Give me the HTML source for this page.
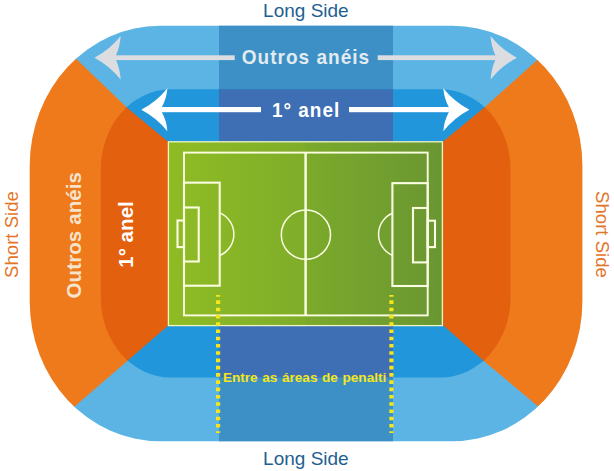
<!DOCTYPE html>
<html>
<head>
<meta charset="utf-8">
<title>Stadium</title>
<style>
html,body{margin:0;padding:0;background:#fff;}
body{width:614px;height:471px;overflow:hidden;}
svg{display:block;}
text{font-family:"Liberation Sans",Arial,sans-serif;}
</style>
</head>
<body>
<svg width="614" height="471" viewBox="0 0 614 471">
<defs>
<clipPath id="outer"><rect x="29.7" y="25.8" width="552.7" height="415.4" rx="130" ry="140"/></clipPath>
<clipPath id="inner"><rect x="100.8" y="89.3" width="409.7" height="288.3" rx="70" ry="80"/></clipPath>
<linearGradient id="grass" x1="0" y1="0" x2="1" y2="0">
<stop offset="0" stop-color="#8fbc24"/>
<stop offset="0.499" stop-color="#7fad2a"/>
<stop offset="0.501" stop-color="#7baa2b"/>
<stop offset="1" stop-color="#6a9632"/>
</linearGradient>
</defs>
<rect width="614" height="471" fill="#ffffff"/>
<!-- outer ring -->
<g clip-path="url(#outer)">
<polygon points="5.7,-5.9 72.8,58.5 124.4,108.0 165.5,142.0 165.5,150.0 446.1,150.0 446.1,141.5 487.0,107.8 540.0,60.3 608.9,-1.5" fill="#5cb4e4"/>
<polygon points="3.8,465.3 72.2,406.0 124.8,360.4 165.5,325.3 165.5,318.0 446.1,318.0 446.1,325.3 486.1,360.4 540.7,406.0 611.7,465.3" fill="#5cb4e4"/>
<rect x="219" y="0" width="174" height="150" fill="#3c90c6"/>
<rect x="219" y="318" width="174" height="153" fill="#3c90c6"/>
<polygon points="-5.0,-5.9 8.7,-5.9 75.8,58.5 127.4,108.0 168.5,142.0 168.5,325.3 127.8,360.4 75.2,406.0 6.8,465.3 -5.0,465.3" fill="#ee7a1b"/>
<polygon points="620.0,-1.5 605.9,-1.5 537.0,60.3 484.0,107.8 443.1,141.5 443.1,325.3 483.1,360.4 537.7,406.0 608.7,465.3 620.0,465.3" fill="#ee7a1b"/>
</g>
<!-- inner ring -->
<g clip-path="url(#inner)">
<polygon points="5.7,-5.9 72.8,58.5 124.4,108.0 165.5,142.0 165.5,150.0 446.1,150.0 446.1,141.5 487.0,107.8 540.0,60.3 608.9,-1.5" fill="#2196da"/>
<polygon points="3.8,465.3 72.2,406.0 124.8,360.4 165.5,325.3 165.5,318.0 446.1,318.0 446.1,325.3 486.1,360.4 540.7,406.0 611.7,465.3" fill="#2196da"/>
<rect x="219" y="0" width="174" height="150" fill="#3e6eb3"/>
<rect x="219" y="318" width="174" height="153" fill="#3e6eb3"/>
<polygon points="-5.0,-5.9 8.7,-5.9 75.8,58.5 127.4,108.0 168.5,142.0 168.5,325.3 127.8,360.4 75.2,406.0 6.8,465.3 -5.0,465.3" fill="#e2600e"/>
<polygon points="620.0,-1.5 605.9,-1.5 537.0,60.3 484.0,107.8 443.1,141.5 443.1,325.3 483.1,360.4 537.7,406.0 608.7,465.3 620.0,465.3" fill="#e2600e"/>
</g>
<!-- pitch -->
<rect x="168.4" y="141.8" width="274" height="183.8" fill="url(#grass)" stroke="#eef6c4" stroke-width="1.3"/>
<g fill="none" stroke="#fbfde2" stroke-width="2.1">
<rect x="184" y="152.6" width="243.7" height="162.8" stroke-width="1.9"/>
<line x1="305.6" y1="152.6" x2="305.6" y2="315.4" stroke-width="2.5"/>
<circle cx="305.9" cy="234.7" r="24.6" stroke-width="1.5"/>
<rect x="184" y="182.65" width="35.7" height="103.05"/>
<rect x="184" y="207.5" width="14.7" height="54"/>
<rect x="177.5" y="220.5" width="6.5" height="26.6"/>
<path d="M219.7,212.9 A23.1,23.1 0 0 1 219.7,255.5" stroke-width="1.5"/>
<rect x="392.4" y="183.15" width="35.3" height="102.85"/>
<rect x="413" y="208" width="14.7" height="54.4"/>
<rect x="427.7" y="220.7" width="7.3" height="26.4"/>
<path d="M392.4,213.2 A23,23 0 0 0 392.4,255.4" stroke-width="1.5"/>
</g>
<!-- arrows -->
<g fill="#dcdde0">
<rect x="115.5" y="55.3" width="119.2" height="4.8"/>
<rect x="377.7" y="55.3" width="118.1" height="4.8"/>
<path d="M120.7,35.9Q109.8,49.5 94.4,57.7Q109.8,65.9 120.7,79.5Q120.0,69.3 116.0,60.1L116.0,55.3Q120.0,46.1 120.7,35.9Z"/>
<path d="M490.6,35.9Q501.5,49.5 516.9,57.7Q501.5,65.9 490.6,79.5Q491.3,69.3 495.3,60.1L495.3,55.3Q491.3,46.1 490.6,35.9Z"/>
</g>
<g fill="#ffffff">
<rect x="161.4" y="107" width="99.6" height="5.2"/>
<rect x="349" y="107" width="99.9" height="5.2"/>
<path d="M167.4,88.2Q156.6,101.7 141.3,109.7Q156.6,117.7 167.4,131.2Q166.7,121.2 161.9,112.2L161.9,107.0Q166.7,98.1 167.4,88.2Z"/>
<path d="M443.3,88.2Q454.1,101.7 469.4,109.7Q454.1,117.7 443.3,131.2Q444.0,121.2 448.8,112.2L448.8,107.0Q444.0,98.1 443.3,88.2Z"/>
</g>
<!-- dotted lines -->
<g stroke="#f5e51a" stroke-width="4.2" stroke-dasharray="3.6 3.67" stroke-dashoffset="1.9" fill="none">
<line x1="218.1" y1="295" x2="218.1" y2="433"/>
<line x1="391.4" y1="295" x2="391.4" y2="433"/>
</g>
<!-- labels -->
<text transform="translate(306,64.4) scale(1,1.04)" font-size="19" font-weight="bold" fill="#e3ebf0" text-anchor="middle" letter-spacing="1.02">Outros anéis</text>
<text transform="translate(306.1,116.8) scale(1,1.03)" font-size="19" font-weight="bold" fill="#ffffff" text-anchor="middle" letter-spacing="1">1° anel</text>
<text transform="translate(80.9,235.2) rotate(-90)" font-size="20.5" font-weight="bold" fill="#f6e3cc" text-anchor="middle" letter-spacing="0.1">Outros anéis</text>
<text transform="translate(132.8,234.5) rotate(-90)" font-size="20.6" font-weight="bold" fill="#ffffff" text-anchor="middle">1° anel</text>
<text x="222.9" y="381.7" font-size="13.6" font-weight="bold" fill="#f5e51a" word-spacing="0.8">Entre as áreas de penalti</text>
<text x="305.9" y="17.3" font-size="19" fill="#245f90" text-anchor="middle">Long Side</text>
<text x="305.9" y="465" font-size="19" fill="#245f90" text-anchor="middle">Long Side</text>
<text transform="translate(18,234.5) rotate(-90)" font-size="18.6" fill="#e3752a" text-anchor="middle">Short Side</text>
<text transform="translate(596.3,234.5) rotate(90)" font-size="18.6" fill="#e3752a" text-anchor="middle">Short Side</text>
</svg>
</body>
</html>
